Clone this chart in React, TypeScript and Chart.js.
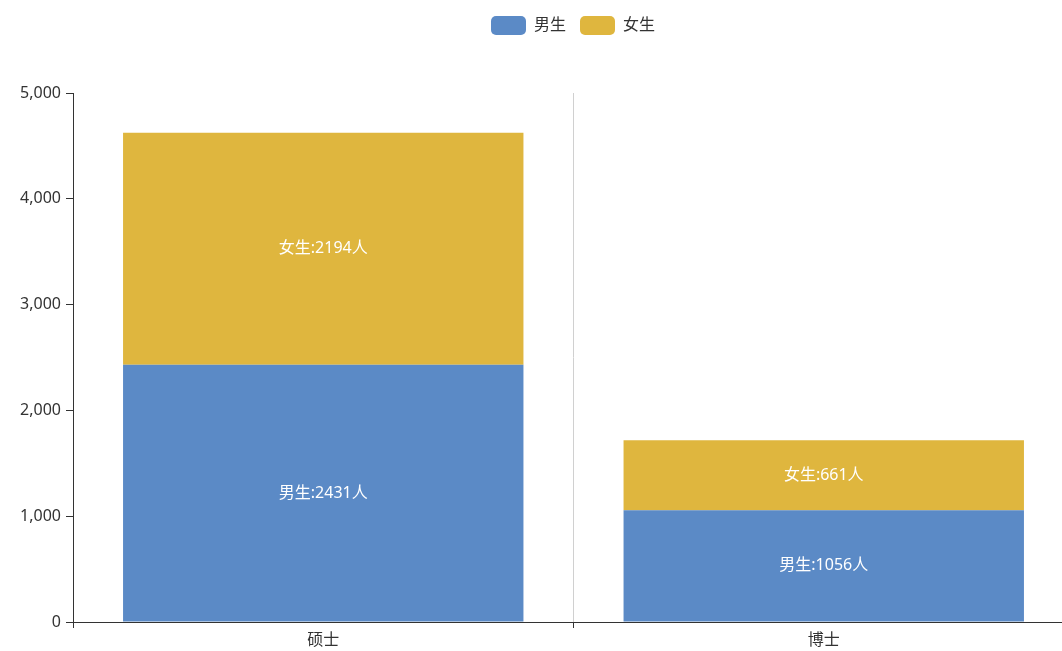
import React, { useEffect, useRef } from "react";
import { Chart, registerables } from "chart.js";

Chart.register(...registerables);

const categories = ["硕士", "博士"];
const seriesNames = ["男生", "女生"];
const maleValues = [2431, 1056];
const femaleValues = [2194, 661];
const yTicks = [0, 1000, 2000, 3000, 4000, 5000];
const colors = ["#5b8ac6", "#dfb63e"];

const FONT = "'Noto Sans', 'Noto Sans CJK SC', sans-serif";

const legendSpacer = {
  id: "legendSpacer",
  beforeInit(chart: any) {
    const orig = chart.legend.fit;
    chart.legend.fit = function () {
      orig.bind(chart.legend)();
      this.height += 48;
    };
  },
};

const barLabels = {
  id: "barLabels",
  afterDatasetsDraw(chart: any) {
    const ctx = chart.ctx;
    ctx.save();
    ctx.fillStyle = "#ffffff";
    ctx.font = `16px ${FONT}`;
    ctx.textAlign = "center";
    ctx.textBaseline = "middle";
    chart.data.datasets.forEach((ds: any, i: number) => {
      const meta = chart.getDatasetMeta(i);
      meta.data.forEach((bar: any, j: number) => {
        const p = bar.getProps(["x", "y", "base"], true);
        const cy = (p.y + p.base) / 2;
        ctx.fillText(`${ds.label}:${ds.data[j]}人`, p.x, cy);
      });
    });
    ctx.restore();
  },
};

export default function App() {
  const ref = useRef<HTMLCanvasElement>(null);
  useEffect(() => {
    if (!ref.current) return;
    const chart = new Chart(ref.current, {
      type: "bar",
      data: {
        labels: categories,
        datasets: [
          { label: seriesNames[0], data: maleValues, backgroundColor: colors[0] },
          { label: seriesNames[1], data: femaleValues, backgroundColor: colors[1] },
        ],
      },
      options: {
        animation: false,
        responsive: false,
        devicePixelRatio: 1,
        layout: { padding: { top: 2, right: 0, left: 0, bottom: 0 } },
        datasets: { bar: { barPercentage: 0.8, categoryPercentage: 1 } },
        plugins: {
          tooltip: { enabled: false },
          legend: {
            position: "top",
            labels: {
              boxWidth: 35,
              boxHeight: 19,
              useBorderRadius: true,
              borderRadius: 5,
              padding: 14,
              color: "#333",
              font: { size: 16, family: FONT },
            },
          },
        },
        scales: {
          x: {
            stacked: true,
            offset: true,
            grid: {
              offset: true,
              display: true,
              drawOnChartArea: true,
              color: "#d0d0d0",
              tickColor: "#333",
              tickLength: 6,
            },
            border: { display: true, color: "#333", width: 1 },
            ticks: { color: "#333", font: { size: 16, family: FONT }, padding: 3 },
            afterFit(scale: any) {
              scale.height = 29;
            },
          },
          y: {
            stacked: true,
            min: 0,
            max: 5000,
            afterBuildTicks(scale: any) {
              scale.ticks = yTicks.map((v) => ({ value: v }));
            },
            grid: {
              drawOnChartArea: false,
              color: "#333",
              tickColor: "#333",
              tickLength: 7,
            },
            border: { display: true, color: "#333", width: 1 },
            ticks: {
              color: "#333",
              font: { size: 16, family: FONT },
              padding: 5,
              callback: (v: any) => Number(v).toLocaleString("en-US"),
            },
            afterFit(scale: any) {
              scale.width = 73;
            },
          },
          yRight: {
            position: "right",
            display: true,
            grid: { display: false },
            border: { display: false },
            ticks: { display: false },
            afterFit(scale: any) {
              scale.width = 72;
            },
          },
        },
      },
      plugins: [legendSpacer, barLabels],
    } as any);
    return () => chart.destroy();
  }, []);
  return (
    <div style={{ position: "fixed", left: 0, top: 0, width: 1062, height: 651, overflow: "hidden", background: "#fff" }}>
      <canvas ref={ref} width={1146} height={651} style={{ display: "block", width: 1146, height: 651 }} />
    </div>
  );
}
